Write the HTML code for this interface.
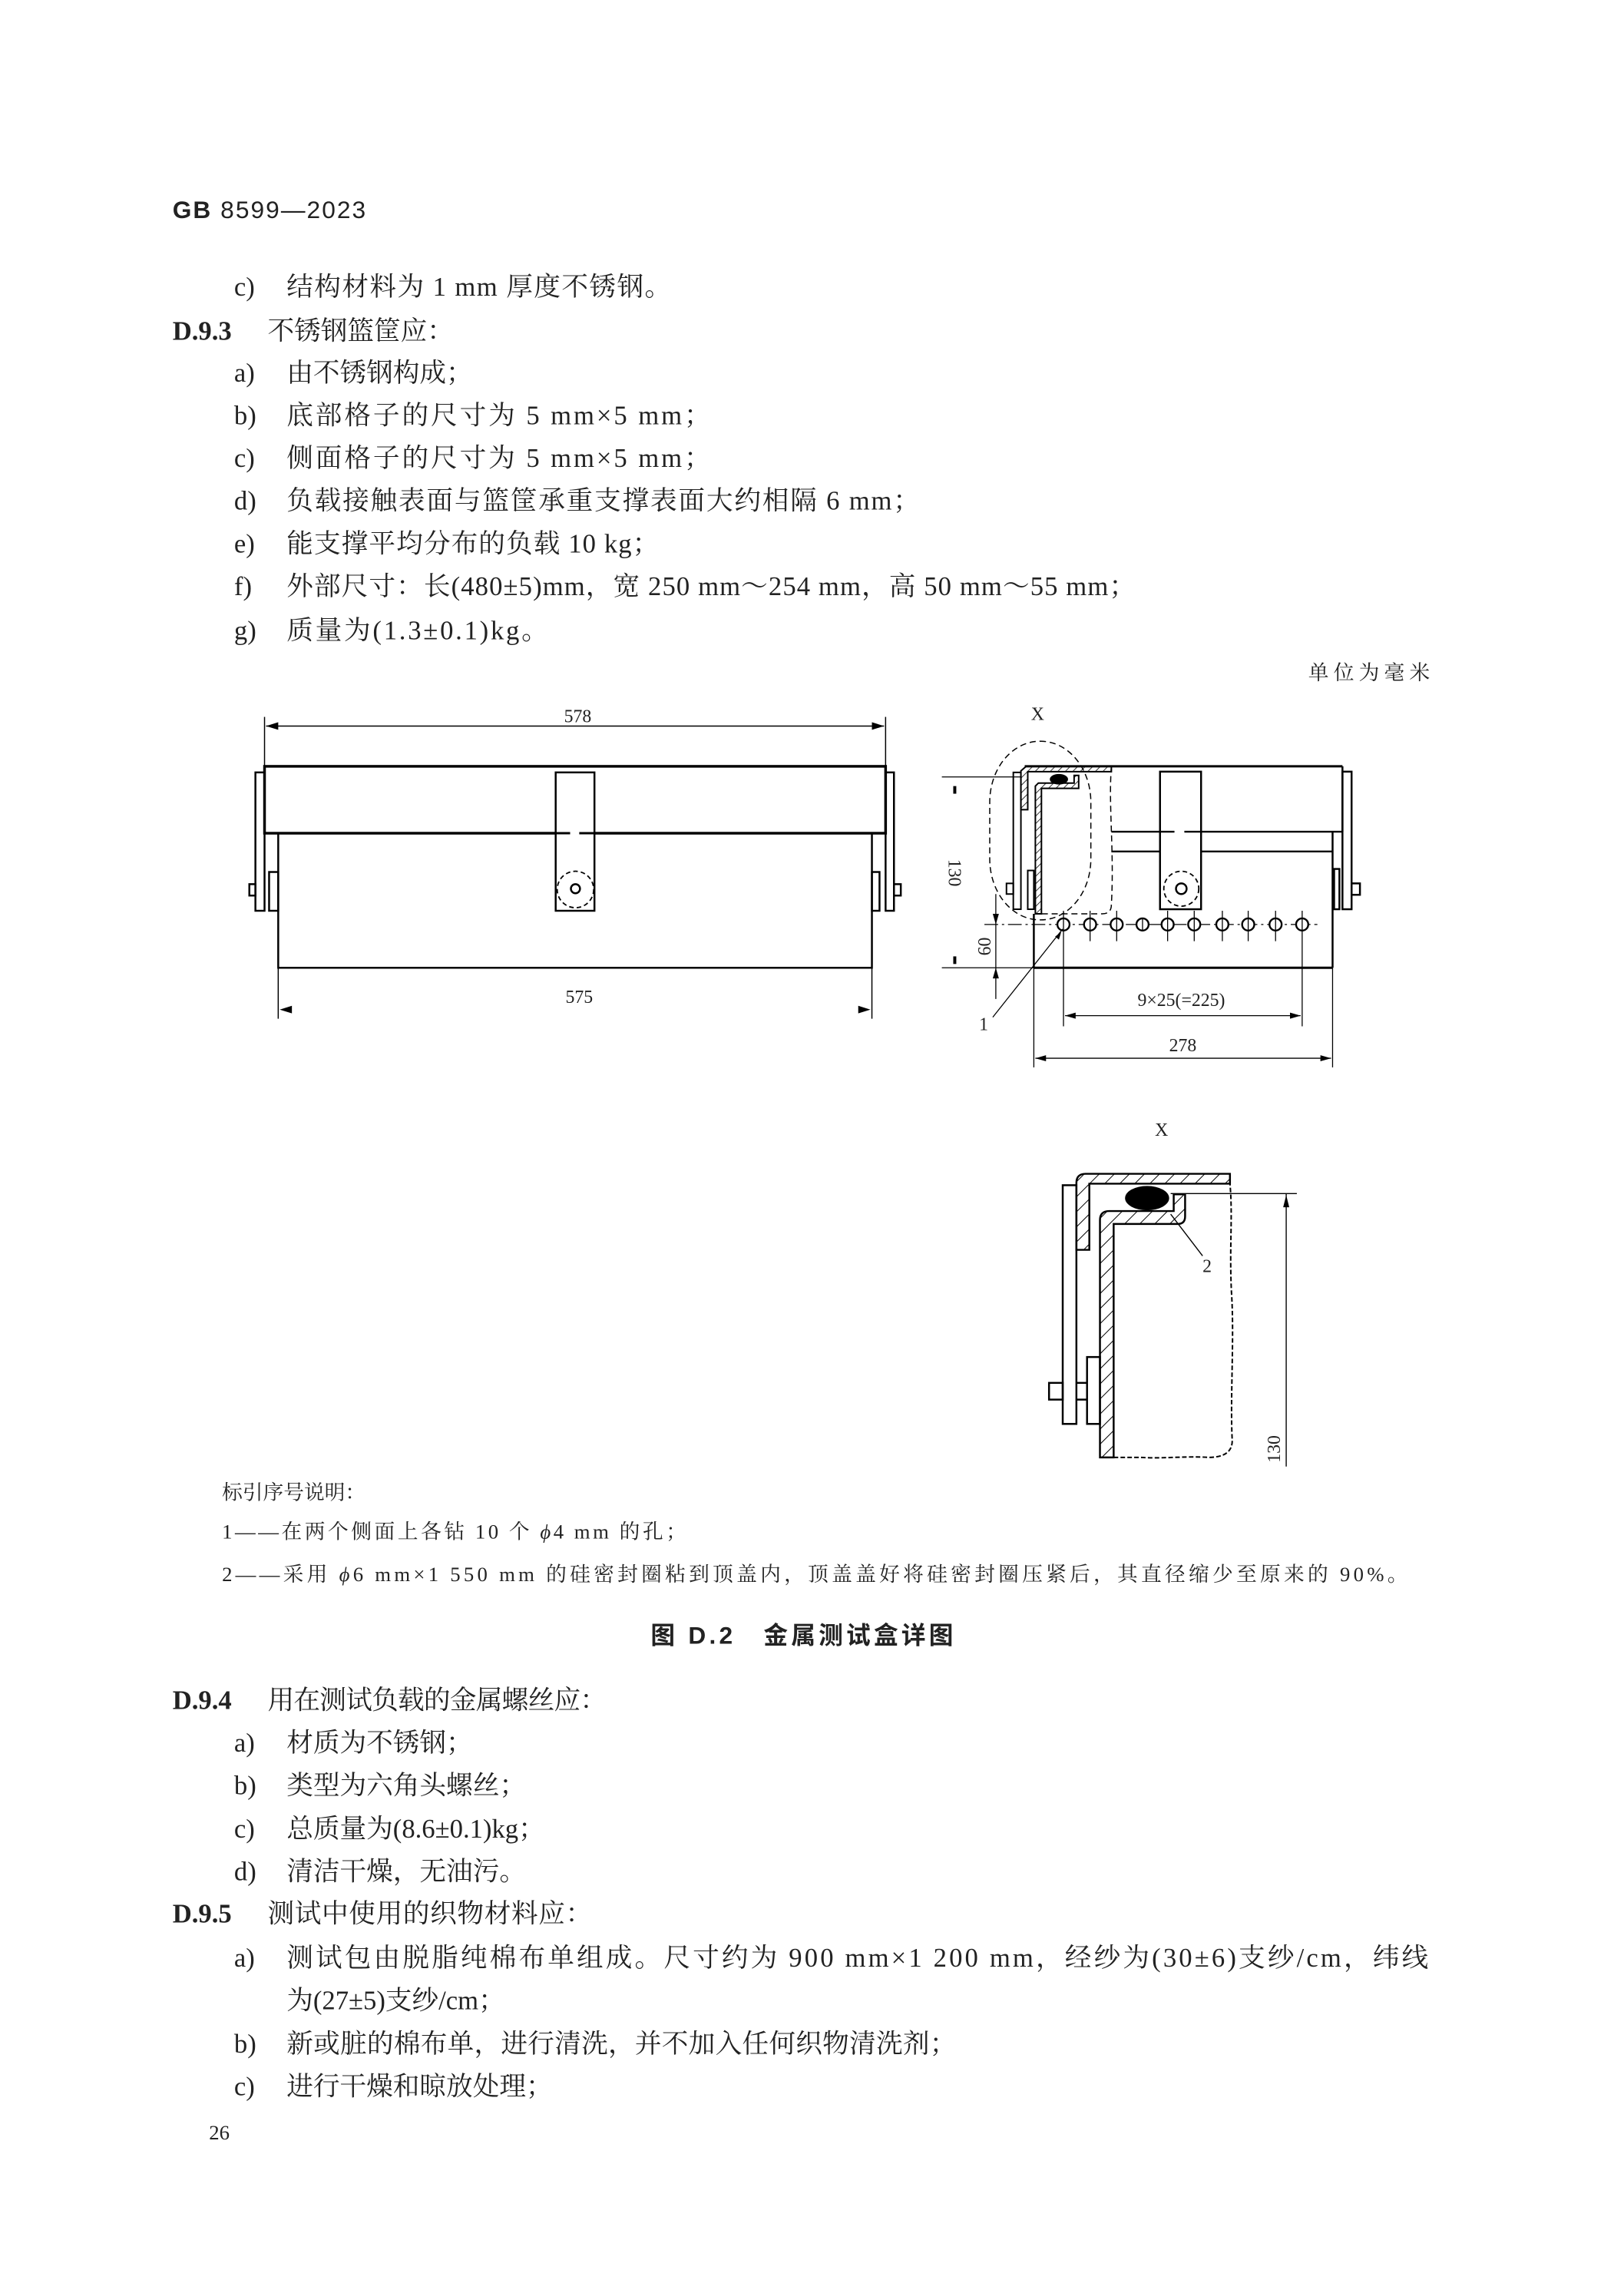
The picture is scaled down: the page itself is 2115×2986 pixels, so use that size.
<!DOCTYPE html>
<html><head><meta charset="utf-8"><style>
html,body{margin:0;padding:0;background:#fff;}
svg{display:block;}
.t{font-family:"Liberation Serif","Noto Serif CJK SC",serif;font-size:35px;fill:#222;}
.s{font-family:"Liberation Serif","Noto Serif CJK SC",serif;font-size:27px;fill:#222;}
.d{font-family:"Liberation Serif","Noto Serif CJK SC",serif;font-size:24px;fill:#222;}
.b{font-family:"Liberation Sans","Noto Sans CJK SC",sans-serif;font-weight:bold;}
</style></head><body>
<svg width="2115" height="2986" viewBox="0 0 2115 2986" xmlns="http://www.w3.org/2000/svg">
<defs>
<pattern id="h" width="7" height="7" patternUnits="userSpaceOnUse" patternTransform="rotate(45)">
<line x1="0" y1="0" x2="0" y2="7" stroke="#000" stroke-width="1.6"/></pattern>
<pattern id="h2" width="14" height="14" patternUnits="userSpaceOnUse" patternTransform="rotate(45)">
<line x1="0" y1="0" x2="0" y2="14" stroke="#000" stroke-width="2"/></pattern>
</defs>
<g transform="scale(0.99)">
<text x="227" y="287" class="b" font-size="32" fill="#222" textLength="254">GB <tspan font-weight="normal">8599—2023</tspan></text>
<g class="t">
<text x="308" y="389">c)</text><text x="377" y="389" textLength="506">结构材料为 1 mm 厚度不锈钢。</text>
<text x="227" y="447" font-weight="bold">D.9.3</text><text x="352" y="447">不锈钢篮筐应：</text>
<text x="308" y="502">a)</text><text x="377" y="502">由不锈钢构成；</text>
<text x="308" y="558">b)</text><text x="377" y="558" textLength="558">底部格子的尺寸为 5 mm×5 mm；</text>
<text x="308" y="614">c)</text><text x="377" y="614" textLength="558">侧面格子的尺寸为 5 mm×5 mm；</text>
<text x="308" y="670">d)</text><text x="377" y="670" textLength="833">负载接触表面与篮筐承重支撑表面大约相隔 6 mm；</text>
<text x="308" y="727">e)</text><text x="377" y="727" textLength="490">能支撑平均分布的负载 10 kg；</text>
<text x="308" y="783">f)</text><text x="377" y="783" textLength="1117">外部尺寸：长(480±5)mm，宽 250 mm～254 mm，高 50 mm～55 mm；</text>
<text x="308" y="841">g)</text><text x="377" y="841" textLength="344">质量为(1.3±0.1)kg。</text>
</g>
<text x="1721" y="894" class="s" textLength="160">单位为毫米</text>

<!-- LEFT DRAWING -->
<g stroke="#000" fill="none" stroke-width="2.5">
<line x1="348" y1="943" x2="348" y2="1008" stroke-width="1.5"/>
<line x1="1165" y1="943" x2="1165" y2="1008" stroke-width="1.5"/>
<line x1="350" y1="955" x2="1163" y2="955" stroke-width="1.5"/>
<rect x="348" y="1008" width="817" height="88" stroke-width="3.5"/>
<rect x="366" y="1096" width="781" height="177"/>
<rect x="336" y="1016" width="12" height="182"/>
<rect x="354" y="1147" width="12" height="51"/>
<rect x="328" y="1163" width="8" height="15"/>
<rect x="1165" y="1016" width="11" height="182"/>
<rect x="1147" y="1147" width="10" height="51"/>
<rect x="1176" y="1163" width="9" height="15"/>
<rect x="731" y="1016" width="51" height="182" fill="#fff"/>
<line x1="731" y1="1096" x2="750" y2="1096" stroke-width="3"/>
<line x1="762" y1="1096" x2="782" y2="1096" stroke-width="3"/>
<circle cx="757" cy="1170" r="24" stroke-dasharray="6 4" stroke-width="1.8"/>
<circle cx="757" cy="1169" r="6"/>
<line x1="366" y1="1273" x2="366" y2="1340" stroke-width="1.5"/>
<line x1="1147" y1="1273" x2="1147" y2="1340" stroke-width="1.5"/>
</g>
<g fill="#000">
<polygon points="350,955 366,950 366,960"/><polygon points="1163,955 1147,950 1147,960"/>
<polygon points="368,1328 384,1323 384,1333"/><polygon points="1145,1328 1129,1323 1129,1333"/>
</g>
<text x="760" y="950" class="d" text-anchor="middle">578</text>
<text x="762" y="1319" class="d" text-anchor="middle">575</text>

<!-- RIGHT DRAWING -->
<text x="1365" y="947" class="d" text-anchor="middle" font-size="27">X</text>
<g stroke="#000" fill="none" stroke-width="2.5">
<line x1="1348" y1="1008" x2="1766" y2="1008" stroke-width="3"/>
<line x1="1766" y1="1008" x2="1766" y2="1094"/>
<line x1="1462" y1="1094" x2="1527" y2="1094"/>
<line x1="1580" y1="1094" x2="1766" y2="1094"/>
<line x1="1462" y1="1120" x2="1753" y2="1120"/>
<line x1="1753" y1="1094" x2="1753" y2="1273"/>
<line x1="1360" y1="1273" x2="1753" y2="1273" stroke-width="3"/>
<line x1="1360" y1="1202" x2="1360" y2="1273"/>
<rect x="1766" y="1015" width="12" height="181"/>
<rect x="1755" y="1143" width="7" height="53"/>
<rect x="1778" y="1162" width="11" height="15"/>
<rect x="1526" y="1015" width="54" height="181" fill="#fff"/>
<line x1="1526" y1="1094" x2="1545" y2="1094"/><line x1="1558" y1="1094" x2="1580" y2="1094"/>
<circle cx="1554" cy="1169" r="23" stroke-dasharray="6 4" stroke-width="1.8"/>
<circle cx="1554" cy="1169" r="7"/>
<path d="M1343,1065 L1343,1014 L1350,1008 L1462,1008 L1462,1015 L1352,1015 L1352,1065 Z" fill="url(#h)" stroke-width="2"/>
<path d="M1362,1202 L1362,1034 L1366,1030 L1413,1030 L1413,1020 L1419,1020 L1419,1037 L1370,1037 L1370,1202 Z" fill="url(#h)" stroke-width="2"/>
<rect x="1333" y="1016" width="10" height="180" stroke-width="2"/>
<rect x="1352" y="1145" width="8" height="51" stroke-width="2"/>
<rect x="1324" y="1162" width="9" height="14" stroke-width="2"/>
<rect x="1302" y="975" width="133" height="235" rx="66" ry="80" stroke-dasharray="8 5" stroke-width="1.5"/>
<path d="M1462,1008 C1458,1060 1466,1120 1462,1190 Q1462,1202 1450,1202 L1370,1202" stroke-dasharray="8 5" stroke-width="1.5"/>
<line x1="1295" y1="1216" x2="1733" y2="1216" stroke-width="1.3" stroke-dasharray="18 5 3 5"/>
</g>
<g stroke="#000" fill="#fff" stroke-width="2.4">
<circle cx="1399" cy="1216" r="8"/><circle cx="1434" cy="1216" r="8"/><circle cx="1469" cy="1216" r="8"/><circle cx="1503" cy="1216" r="8"/><circle cx="1536" cy="1216" r="8"/><circle cx="1571" cy="1216" r="8"/><circle cx="1608" cy="1216" r="8"/><circle cx="1642" cy="1216" r="8"/><circle cx="1678" cy="1216" r="8"/><circle cx="1713" cy="1216" r="8"/>
</g>
<g stroke="#000" stroke-width="1.3">
<line x1="1399" y1="1198" x2="1399" y2="1350"/><line x1="1434" y1="1198" x2="1434" y2="1238"/><line x1="1469" y1="1198" x2="1469" y2="1238"/><line x1="1503" y1="1208" x2="1503" y2="1224"/><line x1="1536" y1="1198" x2="1536" y2="1238"/><line x1="1571" y1="1198" x2="1571" y2="1238"/><line x1="1608" y1="1198" x2="1608" y2="1238"/><line x1="1642" y1="1198" x2="1642" y2="1238"/><line x1="1678" y1="1198" x2="1678" y2="1238"/><line x1="1713" y1="1198" x2="1713" y2="1350"/>
<line x1="1239" y1="1022" x2="1343" y2="1022"/>
<line x1="1239" y1="1273" x2="1360" y2="1273"/>
<line x1="1310" y1="1176" x2="1310" y2="1314"/>
<line x1="1401" y1="1336" x2="1711" y2="1336"/>
<line x1="1360" y1="1273" x2="1360" y2="1404"/>
<line x1="1753" y1="1273" x2="1753" y2="1404"/>
<line x1="1362" y1="1392" x2="1751" y2="1392"/>
<line x1="1398" y1="1222" x2="1306" y2="1338"/>
</g>
<g fill="#000">
<ellipse cx="1393" cy="1025" rx="12" ry="7"/>
<polygon points="1310,1216 1306,1202 1314,1202"/><polygon points="1310,1273 1306,1287 1314,1287"/>
<rect x="1254" y="1034" width="4" height="10"/><rect x="1254" y="1258" width="4" height="10"/>
<polygon points="1401,1336 1415,1332 1415,1340"/><polygon points="1711,1336 1697,1332 1697,1340"/>
<polygon points="1362,1392 1376,1388 1376,1396"/><polygon points="1751,1392 1737,1388 1737,1396"/>
<polygon points="1396,1226 1388,1232 1393,1236"/>
</g>
<text transform="translate(1303,1245) rotate(-90)" class="d" text-anchor="middle">60</text>
<text transform="translate(1248,1148) rotate(90)" class="d" text-anchor="middle">130</text>
<text x="1554" y="1323" class="d" text-anchor="middle">9×25(=225)</text>
<text x="1556" y="1383" class="d" text-anchor="middle">278</text>
<text x="1294" y="1355" class="d" text-anchor="middle">1</text>

<!-- DETAIL X -->
<text x="1528" y="1494" class="d" text-anchor="middle" font-size="27">X</text>
<g stroke="#000" fill="none" stroke-width="2.5">
<path d="M1416,1644 L1416,1556 Q1416,1544 1428,1544 L1618,1544 L1618,1557 L1433,1557 L1433,1644 Z" fill="url(#h2)"/>
<path d="M1447,1917 L1447,1605 Q1447,1593 1459,1593 L1544,1593 L1544,1571 L1559,1571 L1559,1600 Q1559,1610 1549,1610 L1465,1610 L1465,1917 Z" fill="url(#h2)"/>
<rect x="1398" y="1559" width="18" height="314"/>
<rect x="1430" y="1785" width="17" height="88"/>
<rect x="1380" y="1819" width="18" height="22"/>
<line x1="1416" y1="1819" x2="1430" y2="1819"/><line x1="1416" y1="1841" x2="1430" y2="1841"/>
<path d="M1465,1917 L1500,1917 C1530,1919 1560,1915 1590,1917 Q1621,1917 1621,1895 C1618,1840 1624,1760 1620,1700 C1617,1640 1622,1600 1618,1557" stroke-dasharray="6 3" stroke-width="2"/>
</g>
<g stroke="#000" stroke-width="1.4">
<line x1="1540" y1="1570" x2="1706" y2="1570"/>
<line x1="1692" y1="1570" x2="1692" y2="1929"/>
<line x1="1540" y1="1597" x2="1582" y2="1652"/>
</g>
<ellipse cx="1509" cy="1576" rx="29" ry="16" fill="#000"/>
<polygon points="1692,1572 1688,1588 1696,1588" fill="#000"/>
<text transform="translate(1684,1906) rotate(-90)" class="d" text-anchor="middle">130</text>
<text x="1588" y="1673" class="d" text-anchor="middle">2</text>

<!-- legend -->
<g class="s">
<text x="292" y="1972">标引序号说明：</text>
<text x="292" y="2024" textLength="611">1——在两个侧面上各钻 10 个 <tspan font-style="italic">ϕ</tspan>4 mm 的孔；</text>
<text x="292" y="2080" textLength="1560">2——采用 <tspan font-style="italic">ϕ</tspan>6 mm×1 550 mm 的硅密封圈粘到顶盖内，顶盖盖好将硅密封圈压紧后，其直径缩少至原来的 90%。</text>
</g>
<text x="856" y="2162" class="b" font-size="32" fill="#222" textLength="398">图 D.2　金属测试盒详图</text>

<g class="t">
<text x="227" y="2248" font-weight="bold">D.9.4</text><text x="352" y="2248" textLength="446">用在测试负载的金属螺丝应：</text>
<text x="308" y="2304">a)</text><text x="377" y="2304">材质为不锈钢；</text>
<text x="308" y="2360">b)</text><text x="377" y="2360">类型为六角头螺丝；</text>
<text x="308" y="2417">c)</text><text x="377" y="2417">总质量为(8.6±0.1)kg；</text>
<text x="308" y="2473">d)</text><text x="377" y="2473">清洁干燥，无油污。</text>
<text x="227" y="2529" font-weight="bold">D.9.5</text><text x="352" y="2529" textLength="427">测试中使用的织物材料应：</text>
<text x="308" y="2587">a)</text><text x="377" y="2587" textLength="1502">测试包由脱脂纯棉布单组成。尺寸约为 900 mm×1 200 mm，经纱为(30±6)支纱/cm，纬线</text>
<text x="377" y="2643">为(27±5)支纱/cm；</text>
<text x="308" y="2700">b)</text><text x="377" y="2700" textLength="881">新或脏的棉布单，进行清洗，并不加入任何织物清洗剂；</text>
<text x="308" y="2756">c)</text><text x="377" y="2756">进行干燥和晾放处理；</text>
</g>
<text x="275" y="2814" class="s">26</text>
</g>
</svg>
</body></html>
